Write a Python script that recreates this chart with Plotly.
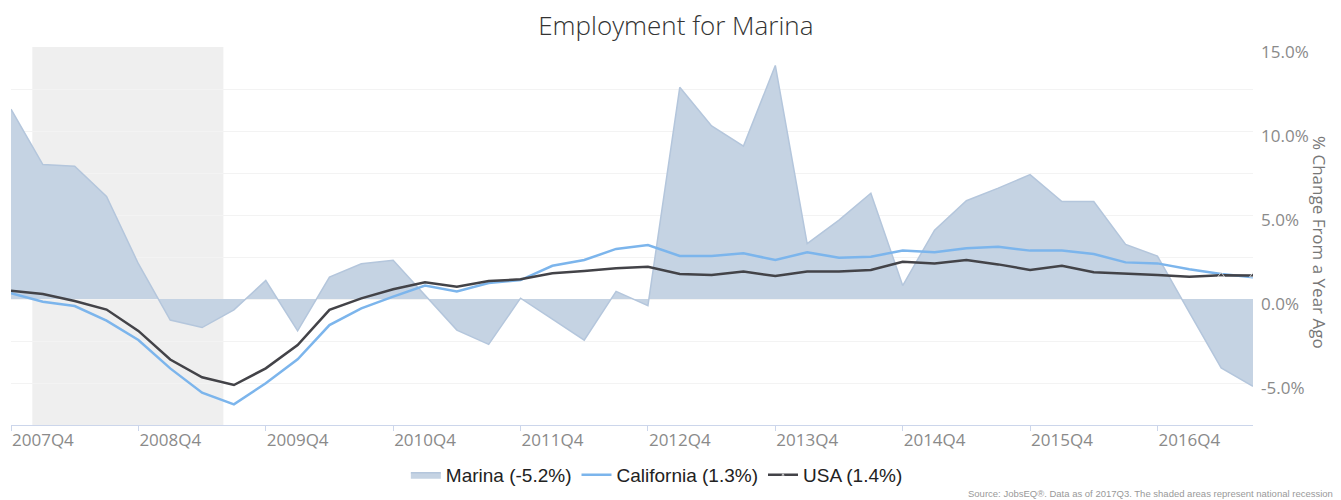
import plotly.graph_objects as go

# quarters 2007Q4 .. 2017Q3
QUARTERS = ['2007Q4'] + ['%dQ%d' % (y, q) for y in range(2008, 2017) for q in range(1, 5)] + \
           ['2017Q1', '2017Q2', '2017Q3']

TICK_LABELS = ['2007Q4', '2008Q4', '2009Q4', '2010Q4', '2011Q4',
               '2012Q4', '2013Q4', '2014Q4', '2015Q4', '2016Q4']

MARINA = [11.3, 8.0, 7.9, 6.1, 2.1, -1.25, -1.7, -0.65, 1.1, -1.9,
          1.3, 2.1, 2.3, 0.2, -1.85, -2.7, 0.05, -1.2, -2.45, 0.45,
          -0.4, 12.6, 10.3, 9.1, 13.9, 3.3, 4.7, 6.3, 0.8, 4.1,
          5.85, 6.6, 7.4, 5.8, 5.8, 3.25, 2.55, -0.8, -4.1, -5.2]

CALIFORNIA = [0.34, -0.16, -0.42, -1.29, -2.44, -4.13, -5.58, -6.27, -5.02, -3.59,
              -1.55, -0.56, 0.14, 0.8, 0.45, 0.95, 1.13, 1.98, 2.32, 2.98,
              3.21, 2.56, 2.56, 2.72, 2.32, 2.78, 2.46, 2.52, 2.88, 2.78,
              3.02, 3.11, 2.88, 2.88, 2.68, 2.18, 2.12, 1.77, 1.49, 1.3]

USA = [0.49, 0.3, -0.12, -0.63, -1.9, -3.6, -4.66, -5.12, -4.13, -2.74,
       -0.65, 0.04, 0.58, 1.0, 0.73, 1.07, 1.17, 1.53, 1.67, 1.83,
       1.92, 1.49, 1.43, 1.63, 1.37, 1.63, 1.63, 1.73, 2.22, 2.12,
       2.32, 2.06, 1.73, 1.98, 1.59, 1.53, 1.43, 1.33, 1.41, 1.4]

Y_TICKS = [-7.5, -5, -2.5, 0, 2.5, 5, 7.5, 10, 12.5, 15]
Y_TICK_TEXT = ['', '-5.0%', '', '0.0%', '', '5.0%', '', '10.0%', '', '15.0%']

# Dec 2007 - Jun 2009, in quarter units from 2007Q4
RECESSION = (0.67, 6.67)

MARINA_COLOR = '#c5d3e3'
CALIFORNIA_COLOR = '#7cb5ec'
USA_COLOR = '#434348'
GRID_COLOR = '#f3f3f3'
LABEL_COLOR = '#8a8a8a'
NARROW = 'Liberation Sans Narrow, Arial Narrow, Liberation Sans, sans-serif'

fig = go.Figure()

fig.add_trace(go.Scatter(x=QUARTERS, y=MARINA,
                         mode='lines',
                         fill='tozeroy',
                         fillcolor=MARINA_COLOR,
                         line=dict(color='#b4c6dc', width=1.5),
                         name='Marina (-5.2%)'))

fig.add_trace(go.Scatter(x=QUARTERS, y=CALIFORNIA,
                         mode='lines',
                         line=dict(color=CALIFORNIA_COLOR, width=2.5),
                         name='California (1.3%)'))

marker_sizes = [0] * (len(USA) - 2) + [6, 6]
fig.add_trace(go.Scatter(x=QUARTERS, y=USA,
                         mode='lines+markers',
                         line=dict(color=USA_COLOR, width=2.5),
                         marker=dict(size=marker_sizes, symbol='triangle-up', color=USA_COLOR),
                         name='USA (1.4%)'))

# recession band
fig.add_shape(type='rect', xref='x', yref='paper',
              x0=RECESSION[0], x1=RECESSION[1], y0=0, y1=1,
              fillcolor='#efefef', line_width=0, layer='between')

# page body has an 8px margin, so the figure is 8px smaller than the window
fig.update_layout(
    width=1333, height=492,
    margin=dict(l=3, r=88, t=39, b=75, autoexpand=False),
    paper_bgcolor='white', plot_bgcolor='white',
    font=dict(family='Open Sans, sans-serif', color=LABEL_COLOR),
    title=dict(text='Employment for Marina', x=0.501, xanchor='center', y=0.964, yanchor='middle',
               font=dict(family='Open Sans, sans-serif', size=26, color='#333333', weight=300)),
    legend=dict(orientation='h', x=0.52, xanchor='center', y=-0.132, yanchor='middle',
                font=dict(family=NARROW, size=19, color='#222222'),
                itemwidth=30, tracegroupgap=0),
    showlegend=True,
    hovermode=False,
)

fig.update_xaxes(type='category', range=[0, len(QUARTERS) - 1], automargin=False,
                 tickmode='array', tickvals=TICK_LABELS, ticktext=TICK_LABELS,
                 ticklabelposition='outside right',
                 ticks='outside', ticklen=5, tickcolor='#ccd6eb',
                 showline=True, linecolor='#ccd6eb', linewidth=1,
                 showgrid=False, zeroline=False,
                 tickfont=dict(size=17, color=LABEL_COLOR))

fig.update_yaxes(side='right', range=[-7.5, 15], automargin=False,
                 tickmode='array', tickvals=Y_TICKS, ticktext=Y_TICK_TEXT,
                 showgrid=True, gridcolor=GRID_COLOR, zeroline=False,
                 ticks='', ticklabelstandoff=7, ticklabelshift=5,
                 tickfont=dict(size=17, color=LABEL_COLOR))

fig.add_annotation(text='% Change From a Year Ago', textangle=90,
                   xref='paper', yref='paper', x=1.054, y=0.484,
                   xanchor='center', yanchor='middle', showarrow=False,
                   font=dict(family='Open Sans, sans-serif', size=17, color='#777777'))

fig.add_annotation(text='Source: JobsEQ®. Data as of 2017Q3. The shaded areas represent national recession',
                   xref='paper', yref='paper', x=1.066, y=-0.18,
                   xanchor='right', yanchor='middle', showarrow=False,
                   font=dict(family=NARROW, size=9.5, color='#999999'))

fig.write_html('out.html')
